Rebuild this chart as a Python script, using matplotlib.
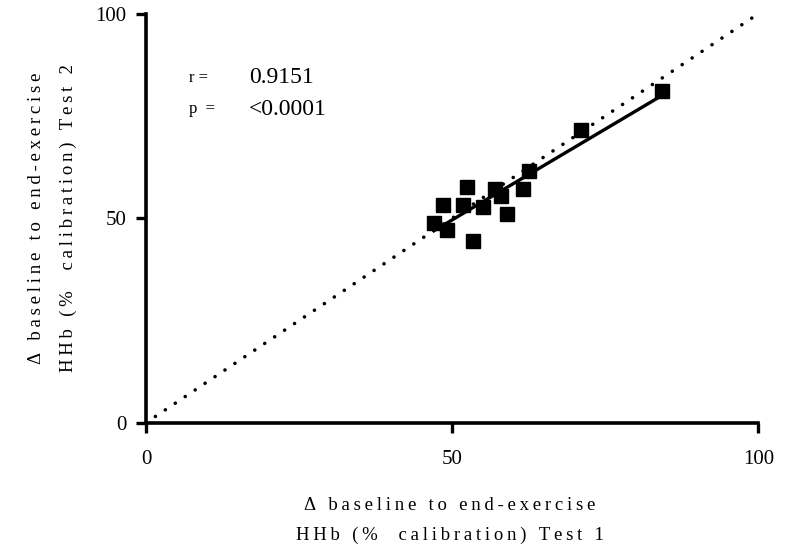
import numpy as np
import matplotlib.pyplot as plt

# HHb change, test 1 vs test 2
test1 = [47.0, 48.4, 49.2, 51.8, 52.4, 53.3, 55.0, 56.9, 58.0, 58.9, 61.5, 62.6, 71.0, 84.3]
test2 = [48.8, 53.1, 47.2, 53.1, 57.7, 44.5, 52.7, 57.2, 55.5, 51.1, 57.2, 61.5, 71.5, 81.1]
ticks = [0, 50, 100]
r_text = "0.9151"
p_text = "<0.0001"

plt.rcParams['font.family'] = ['Liberation Serif', 'DejaVu Serif']


def spaced(s):
    # wide letter spacing for the axis titles
    return "\u2009".join(s)


fig = plt.figure(figsize=(7.86, 5.46), dpi=100)
ax = fig.add_axes([0.186, 0.226, 0.779, 0.749])

x = np.array(test1)
y = np.array(test2)

# line of identity
ax.plot([1.5, 100], [1.5, 100], color='black', lw=2.6, linestyle=(0, (0.01, 3.3)),
        dash_capstyle='round', solid_capstyle='round', zorder=2)

# linear regression over the data range
slope, icpt = np.polyfit(x, y, 1)
xs = np.array([x.min(), x.max()])
ax.plot(xs, slope * xs + icpt, color='black', lw=2.4, zorder=3)

ax.plot(x, y, 's', color='black', markersize=9.5, zorder=4)

ax.set_xlim(0, 100)
ax.set_ylim(0, 100)
ax.set_xticks(ticks)
ax.set_yticks(ticks)
ax.tick_params(direction='out', length=7, width=2.4, labelsize=15, pad=7)
ax.tick_params(axis='x', pad=13)
for side in ['top', 'right']:
    ax.spines[side].set_visible(False)
for side in ['left', 'bottom']:
    ax.spines[side].set_linewidth(2.6)

ax.text(0.07, 0.843, "r =", transform=ax.transAxes, fontsize=12, va='center')
ax.text(0.168, 0.843, r_text, transform=ax.transAxes, fontsize=17, va='center')
ax.text(0.07, 0.766, "p  =", transform=ax.transAxes, fontsize=12, va='center')
ax.text(0.168, 0.766, p_text, transform=ax.transAxes, fontsize=17, va='center')

fig.text(0.5725, 0.075, spaced("Δ baseline to end-exercise"), fontsize=13.5,
         ha='center', va='center')
fig.text(0.5725, 0.020, spaced("HHb (%  calibration) Test 1"), fontsize=13.5,
         ha='center', va='center')
fig.text(0.046, 0.60, spaced("Δ baseline to end-exercise"), fontsize=13.5,
         ha='center', va='center', rotation=90)
fig.text(0.087, 0.60, spaced("HHb (%  calibration) Test 2"), fontsize=13.5,
         ha='center', va='center', rotation=90)

fig.savefig("out.png", dpi=100)
